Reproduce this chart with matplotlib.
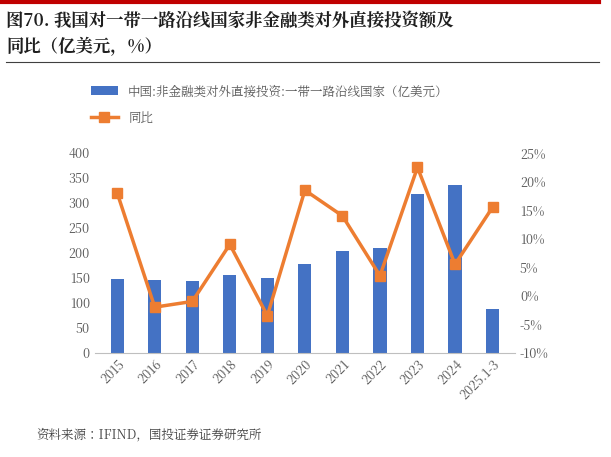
import matplotlib
matplotlib.use("Agg")
import matplotlib.pyplot as plt
from matplotlib import font_manager as fm
from matplotlib.ticker import FuncFormatter

cjk = None
for f in fm.findSystemFonts():
    if "CJK" in f or "cjk" in f.lower():
        try:
            fm.fontManager.addfont(f)
            name = fm.FontProperties(fname=f).get_name()
            if cjk is None or "SC" in name:
                cjk = name
        except Exception:
            pass
plt.rcParams["font.family"] = [cjk or "Noto Sans CJK SC", "DejaVu Sans"]

years = ["2015", "2016", "2017", "2018", "2019", "2020", "2021", "2022", "2023", "2024", "2025.1-3"]
invest = [148, 145, 143, 156, 150, 178, 203, 209, 318, 337, 88]
yoy = [18.0, -2.0, -1.0, 9.0, -3.5, 18.5, 14.0, 3.5, 22.5, 5.5, 15.5]

fig = plt.figure(figsize=(6.11, 4.57), dpi=100)
ax = fig.add_axes([0.155, 0.228, 0.688, 0.437])
x = range(len(years))
b = ax.bar(x, invest, width=0.35, color="#4472C4", label="中国:非金融类对外直接投资:一带一路沿线国家（亿美元）")
ax.set_ylim(0, 400)
ax.set_yticks(range(0, 401, 50))
ax.set_xlim(-0.6, len(years) - 0.4)
ax.set_xticks(list(x))
ax.set_xticklabels(years, rotation=45, ha="right", rotation_mode="anchor", fontsize=9, color="#595959")
ax2 = ax.twinx()
l, = ax2.plot(x, yoy, color="#ED7D31", lw=2.5, marker="s", ms=7, label="同比")
ax2.set_ylim(-10, 25)
ax2.set_yticks(range(-10, 26, 5))
ax2.yaxis.set_major_formatter(FuncFormatter(lambda v, p: f"{int(v)}%"))
for a in (ax, ax2):
    for s in a.spines.values():
        s.set_visible(False)
    a.tick_params(length=0, labelsize=9, colors="#595959")
ax.spines["bottom"].set_visible(True)
ax.spines["bottom"].set_color("#BFBFBF")

fig.legend(handles=[b, l], loc="upper left", bbox_to_anchor=(0.13, 0.84), frameon=False,
           fontsize=9, labelcolor="#595959", handlelength=2.2, labelspacing=1.0)

fig.add_artist(plt.Line2D([0, 0.98], [0.995, 0.995], color="#C00000", lw=3))
fig.text(0.01, 0.975, "图70. 我国对一带一路沿线国家非金融类对外直接投资额及\n同比（亿美元，%）",
         va="top", fontsize=12.5, fontweight="bold", color="#1F1F1F", linespacing=1.4)
fig.add_artist(plt.Line2D([0.01, 0.98], [0.865, 0.865], color="#404040", lw=0.8))
fig.text(0.06, 0.04, "资料来源：IFIND，国投证券证券研究所", fontsize=9, style="italic", color="#404040")
fig.savefig("out.png", dpi=100)
